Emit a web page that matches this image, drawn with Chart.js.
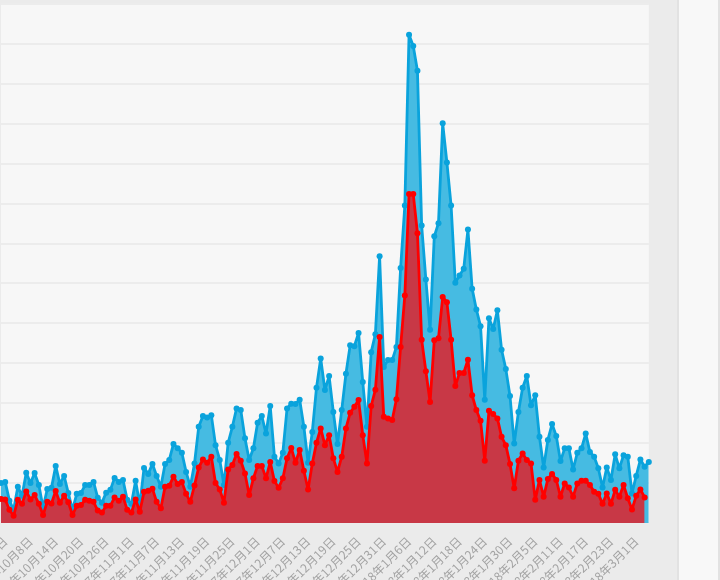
<!DOCTYPE html>
<html>
<head>
<meta charset="utf-8">
<title>趋势</title>
<script src="https://cdn.jsdelivr.net/npm/chart.js@4.4.1/dist/chart.umd.min.js"></script>
<style>
  html, body { margin: 0; padding: 0; width: 720px; height: 580px; overflow: hidden; background: #ebebeb; }
  #box { position: absolute; left: -3px; top: 0; width: 665px; height: 603px; }
  #side { position: absolute; left: 677px; top: 0; width: 39px; height: 580px; background: #f8f8f8;
          border-left: 2px solid #e2e2e2; border-right: 2px solid #e2e2e2; }
</style>
</head>
<body>
<div id="box"><canvas id="myChart"></canvas></div>
<div id="side"></div>
<script>
// dados //
const firstDay = [2017, 9, 1];   // 2017-10-01
const dayCount = 155;
const labelStart = 1;            // primeiro rótulo visível: 10月2日
const labelStep = 6;

const totalValues = [100,
  103,56,33,91,68,126,100,125,95,38,85,88,143,98,118,75,33,73,75,95,95,103,63,51,76,83,
  113,103,108,58,48,106,45,138,123,148,118,91,148,158,198,187,176,128,91,149,241,268,264,270,195,158,
  95,201,241,287,283,212,158,187,251,268,224,293,166,149,176,287,299,298,309,241,151,228,339,412,333,
  368,278,198,283,374,445,443,476,353,241,428,473,668,391,408,408,441,639,795,1223,1195,1133,745,610,484,
  718,751,1001,903,795,602,620,637,735,587,535,493,309,513,486,533,434,386,318,199,278,339,368,295,320,
  216,139,208,248,218,155,187,187,134,176,187,224,178,166,137,89,139,108,172,137,170,166,74,118,159,141,153];

const partValues = [60,
  59,33,18,58,48,79,59,70,48,20,53,49,80,51,68,52,20,43,45,58,56,53,31,26,43,43,
  64,56,66,33,26,59,28,78,81,86,53,37,91,93,116,98,103,73,53,94,139,159,151,166,100,84,
  51,134,145,173,156,124,70,112,143,143,112,153,105,88,112,162,188,151,183,131,84,149,201,237,195,
  220,162,128,166,237,276,291,308,220,149,293,334,466,266,262,258,310,441,570,824,824,726,459,380,303,
  458,463,566,553,459,343,376,376,409,320,283,256,156,281,273,262,216,195,148,87,156,174,158,149,58,
  108,66,110,123,108,66,99,89,66,99,106,106,95,78,73,48,74,48,83,66,95,62,34,68,84,64];

const yMax = 1300;
const yStep = 100;

// rótulos de data //
const dates = [];
for (let i = 0; i < dayCount; i++) {
  const d = new Date(firstDay[0], firstDay[1], firstDay[2] + i);
  dates.push(d.getFullYear() + '年' + (d.getMonth() + 1) + '月' + d.getDate() + '日');
}

// fundo só na área do gráfico
const areaBg = {
  id: 'areaBg',
  beforeDraw(chart) {
    const { ctx, chartArea: a } = chart;
    ctx.save();
    ctx.fillStyle = '#f7f7f7';
    ctx.fillRect(a.left, a.top, a.right - a.left, a.bottom - a.top);
    ctx.restore();
  }
};

const ctx = document.getElementById('myChart');

new Chart(ctx, {
  type: 'line',
  data: {
    labels: dates,
    datasets: [{
      data: partValues,
      borderColor: '#ff0000',
      backgroundColor: '#c83846',
      pointBackgroundColor: '#ff0000',
      pointBorderColor: '#ff0000',
      borderWidth: 2.8,
      borderJoinStyle: 'round',
      pointRadius: 3,
      pointBorderWidth: 0,
      tension: 0,
      fill: 'origin'
    }, {
      data: totalValues,
      borderColor: '#0aa3dc',
      backgroundColor: '#46bbe2',
      pointBackgroundColor: '#0aa3dc',
      pointBorderColor: '#0aa3dc',
      borderWidth: 2.8,
      borderJoinStyle: 'round',
      pointRadius: 3,
      pointBorderWidth: 0,
      tension: 0,
      fill: 'origin'
    }]
  },
  options: {
    responsive: true,
    maintainAspectRatio: false,
    animation: false,
    layout: { padding: { top: 4 } },
    plugins: { legend: { display: false }, tooltip: { enabled: false } },
    scales: {
      x: {
        grid: { display: false },
        border: { display: false },
        afterFit: (scale) => { scale.height = 80; },
        ticks: {
          autoSkip: false,
          minRotation: 45,
          maxRotation: 45,
          color: '#a3a3a3',
          font: { size: 12, family: '"Noto Sans CJK SC", "DejaVu Sans", sans-serif' },
          callback: function (value, index) {
            return (index - labelStart) % labelStep === 0 ? this.getLabelForValue(value) : '';
          }
        }
      },
      y: {
        min: 0,
        max: yMax,
        border: { display: false },
        grid: { color: '#ececec', lineWidth: 2, drawTicks: false },
        ticks: { display: false, stepSize: yStep }
      }
    }
  },
  plugins: [areaBg]
});
</script>
</body>
</html>
